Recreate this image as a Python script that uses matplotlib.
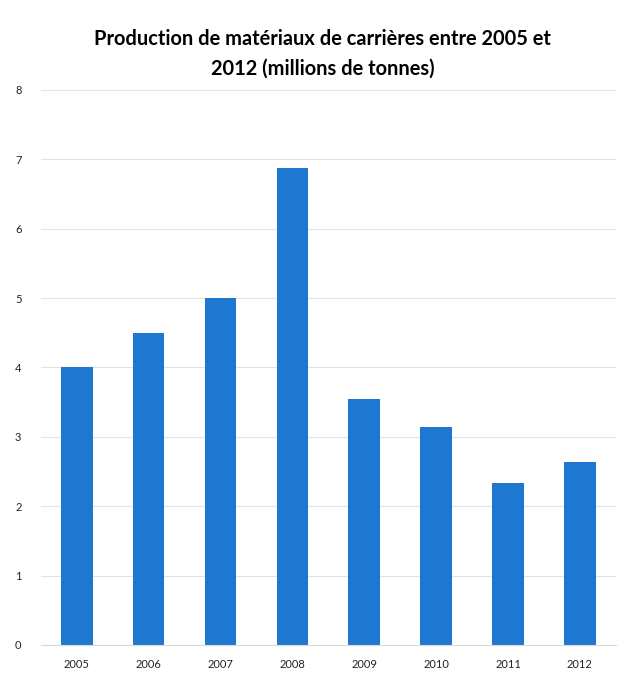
import matplotlib.pyplot as plt

years = ['2005', '2006', '2007', '2008', '2009', '2010', '2011', '2012']
production = [4.0, 4.5, 5.0, 6.87, 3.55, 3.14, 2.34, 2.63]
y_ticks = [0, 1, 2, 3, 4, 5, 6, 7, 8]

plt.rcParams['font.family'] = ['Lato', 'DejaVu Sans']

fig = plt.figure(figsize=(6.29, 6.81), dpi=100)
ax = fig.add_axes([0.065, 0.053, 0.914, 0.815])

x = range(len(years))
ax.bar(x, production, width=0.44, color='#1E78D2', zorder=2)

ax.set_xlim(-0.5, len(years) - 0.5)
ax.set_ylim(0, 8)
ax.set_yticks(y_ticks)
ax.set_xticks(list(x))
ax.set_xticklabels(years)
ax.tick_params(axis='both', length=0, labelsize=8, colors='#222222')
ax.tick_params(axis='x', pad=10)
ax.tick_params(axis='y', pad=14)

ax.grid(axis='y', color='#e2e2e2', linewidth=0.8, zorder=0)
for s in ['top', 'right', 'left']:
    ax.spines[s].set_visible(False)
ax.spines['bottom'].set_color('#d8d8d8')

fig.text(0.513, 0.921, 'Production de matériaux de carrières entre 2005 et\n2012 (millions de tonnes)',
         ha='center', va='center', fontsize=14.4, fontweight='bold', linespacing=1.6)

fig.savefig('out.png', dpi=100, facecolor='white')
